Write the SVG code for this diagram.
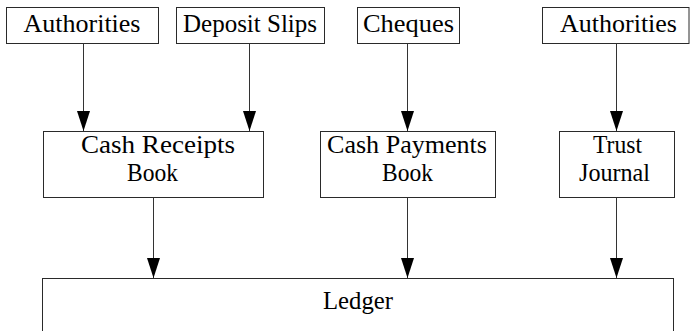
<svg xmlns="http://www.w3.org/2000/svg" width="690" height="331" viewBox="0 0 690 331">
  <style>
    .box { fill: #ffffff; stroke: #2a2a2a; stroke-width: 1; }
    .lbl { font-family: "Liberation Serif", "DejaVu Serif", serif; font-size: 25px; fill: #000000; text-anchor: middle; }
    .edge { stroke: #333333; stroke-width: 1; fill: none; marker-end: url(#head); }
  </style>
  <defs>
    <marker id="head" markerUnits="userSpaceOnUse" viewBox="0 -6.5 20 13" refX="20" refY="0" markerWidth="20" markerHeight="13" orient="auto">
      <path d="M0,-6.5 L20,0 L0,6.5 z" fill="#000000"/>
    </marker>
  </defs>
  <rect width="690" height="331" fill="#ffffff"/>

  <!-- source documents -->
  <g id="authorities-left">
    <rect class="box" x="6.5" y="7.5" width="152" height="36"/>
    <text class="lbl" x="82" y="32" textLength="117" lengthAdjust="spacingAndGlyphs">Authorities</text>
  </g>
  <g id="deposit-slips">
    <rect class="box" x="176.5" y="7.5" width="148" height="36"/>
    <text class="lbl" x="250" y="32" textLength="134" lengthAdjust="spacingAndGlyphs">Deposit Slips</text>
  </g>
  <g id="cheques">
    <rect class="box" x="357.5" y="7.5" width="102" height="36"/>
    <text class="lbl" x="408.5" y="32" textLength="91" lengthAdjust="spacingAndGlyphs">Cheques</text>
  </g>
  <g id="authorities-right">
    <rect class="box" x="542.5" y="7.5" width="146.5" height="36"/>
    <text class="lbl" x="618.5" y="32" textLength="117" lengthAdjust="spacingAndGlyphs">Authorities</text>
  </g>

  <!-- books of original entry -->
  <g id="cash-receipts-book">
    <rect class="box" x="43.5" y="131.5" width="220" height="66"/>
    <text class="lbl" x="158" y="153" textLength="154" lengthAdjust="spacingAndGlyphs">Cash Receipts</text>
    <text class="lbl" x="152.5" y="181" textLength="51" lengthAdjust="spacingAndGlyphs">Book</text>
  </g>
  <g id="cash-payments-book">
    <rect class="box" x="320.5" y="131.5" width="175" height="66"/>
    <text class="lbl" x="407" y="153" textLength="160" lengthAdjust="spacingAndGlyphs">Cash Payments</text>
    <text class="lbl" x="407.5" y="181" textLength="51" lengthAdjust="spacingAndGlyphs">Book</text>
  </g>
  <g id="trust-journal">
    <rect class="box" x="559.5" y="131.5" width="115" height="66"/>
    <text class="lbl" x="617.5" y="153" textLength="49" lengthAdjust="spacingAndGlyphs">Trust</text>
    <text class="lbl" x="614.5" y="181" textLength="71" lengthAdjust="spacingAndGlyphs">Journal</text>
  </g>

  <!-- ledger -->
  <g id="ledger">
    <rect class="box" x="42.5" y="278.5" width="631" height="70"/>
    <text class="lbl" x="358" y="309" textLength="70" lengthAdjust="spacingAndGlyphs">Ledger</text>
  </g>

  <!-- connectors -->
  <g id="connectors">
    <line class="edge" x1="83.5" y1="43.5" x2="83.5" y2="131"/>
    <line class="edge" x1="249.5" y1="43.5" x2="249.5" y2="131"/>
    <line class="edge" x1="407.5" y1="43.5" x2="407.5" y2="131"/>
    <line class="edge" x1="616.5" y1="43.5" x2="616.5" y2="131"/>
    <line class="edge" x1="153.5" y1="197.5" x2="153.5" y2="278"/>
    <line class="edge" x1="407.5" y1="197.5" x2="407.5" y2="278"/>
    <line class="edge" x1="616.5" y1="197.5" x2="616.5" y2="278"/>
  </g>
</svg>
